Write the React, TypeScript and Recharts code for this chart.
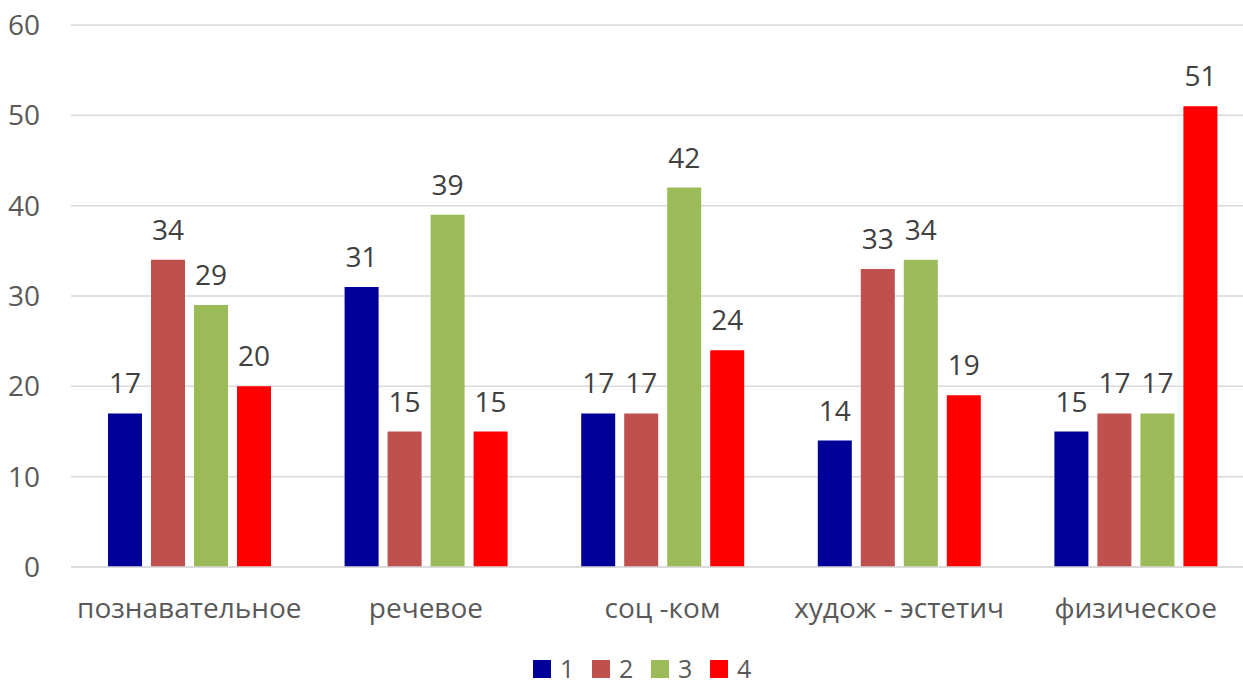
import React from "react";
import { BarChart, Bar, XAxis, YAxis, CartesianGrid, Legend, LabelList } from "recharts";

const categories = ["познавательное", "речевое", "соц -ком", "худож - эстетич", "физическое"];
const series1 = [17, 31, 17, 14, 15];
const series2 = [34, 15, 17, 33, 17];
const series3 = [29, 39, 42, 34, 17];
const series4 = [20, 15, 24, 19, 51];
const seriesNames = ["1", "2", "3", "4"];
const seriesColors = ["#000099", "#C0504D", "#9BBB59", "#FF0000"];
const yTicks = [0, 10, 20, 30, 40, 50, 60];

const data = categories.map((c, i) => ({
  name: c,
  s1: series1[i],
  s2: series2[i],
  s3: series3[i],
  s4: series4[i],
}));

const FONT = "'Open Sans', sans-serif";
const FS = 28;

const LegendContent = () => (
  <svg width={1243} height={30} style={{ display: "block" }}>
    {seriesNames.map((n, i) => (
      <g key={n}>
        <rect x={533 + i * 59} y={9} width={18} height={18} fill={seriesColors[i]} />
        <text x={560 + i * 59} y={27} fontFamily={FONT} fontSize={25} fill="#595959">
          {n}
        </text>
      </g>
    ))}
  </svg>
);

export default function App() {
  const keys = ["s1", "s2", "s3", "s4"];
  return (
    <div style={{ position: "absolute", left: 0, top: 0, width: 1243, height: 681, background: "#fff", overflow: "hidden" }}>
      <BarChart
        width={1254}
        height={681}
        data={data}
        margin={{ top: 25, right: 0, bottom: 0, left: 0 }}
        barSize={34}
        barGap={9}
      >
        <CartesianGrid vertical={false} stroke="#D9D9D9" strokeWidth={1.5} />
        <XAxis
          dataKey="name"
          height={84}
          tickLine={false}
          axisLine={{ stroke: "#D9D9D9", strokeWidth: 1.5 }}
          tickMargin={25}
          interval={0}
          tick={{ fill: "#595959", fontSize: FS, fontFamily: FONT }}
        />
        <YAxis
          width={71}
          domain={[0, 60]}
          ticks={yTicks}
          tickLine={false}
          axisLine={false}
          tickMargin={25}
          tick={{ fill: "#595959", fontSize: FS, fontFamily: FONT }}
        />
        <Legend verticalAlign="bottom" wrapperStyle={{ left: 0, width: 1243, height: 30 }} content={<LegendContent />} />
        {keys.map((k, i) => (
          <Bar key={k} dataKey={k} name={seriesNames[i]} fill={seriesColors[i]} isAnimationActive={false}>
            <LabelList
              dataKey={k}
              position="top"
              offset={20}
              fill="#404040"
              style={{ fontSize: FS, fontFamily: FONT }}
            />
          </Bar>
        ))}
      </BarChart>
    </div>
  );
}
